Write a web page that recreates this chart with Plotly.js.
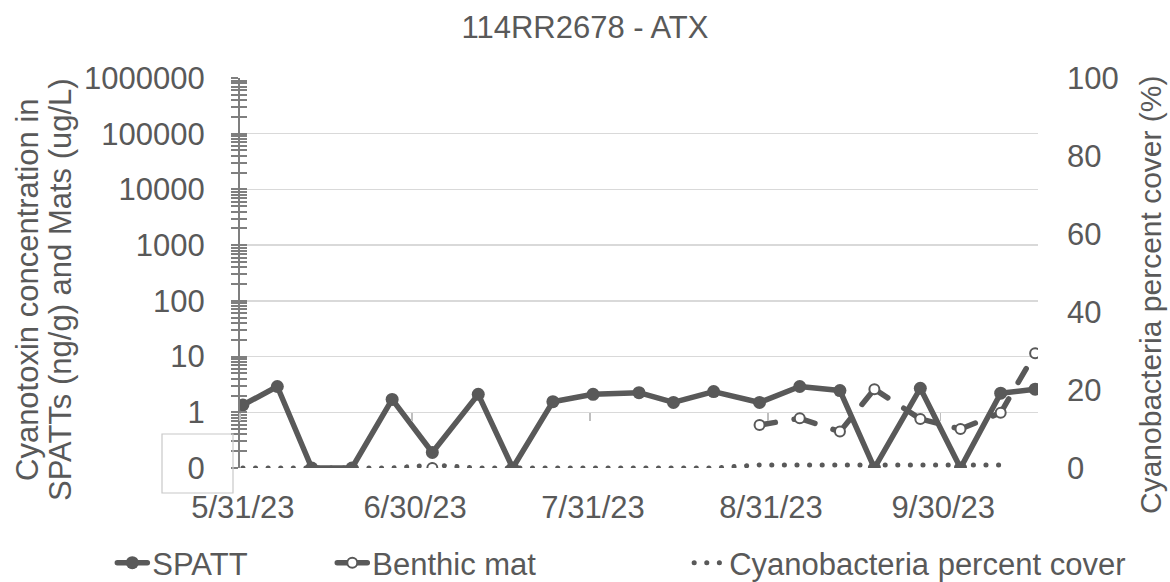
<!DOCTYPE html>
<html>
<head>
<meta charset="utf-8">
<script src="https://cdn.plot.ly/plotly-3.0.1.min.js"></script>
<style>
html, body { margin: 0; padding: 0; background: #ffffff; }
#chart { width: 1170px; height: 582px; }
path.js-line { stroke-linecap: round; stroke-linejoin: round; }
</style>
</head>
<body>
<div id="chart"></div>
<script>
// ---------- data ----------
const sampleDates = ['2023-05-31','2023-06-06','2023-06-12','2023-06-19','2023-06-26','2023-07-03','2023-07-11',
  '2023-07-17','2023-07-24','2023-07-31','2023-08-08','2023-08-14','2023-08-21','2023-08-29','2023-09-05',
  '2023-09-12','2023-09-18','2023-09-26','2023-10-03','2023-10-10','2023-10-16'];
const spattValues   = [1.35, 2.9, 0, 0, 1.7, 0.19, 2.1, 0, 1.55, 2.1, 2.25, 1.5, 2.35, 1.5, 2.9, 2.45, 0, 2.7, 0, 2.2, 2.6];
const benthicValues = [null, null, null, null, null, 0, null, null, null, null, null, null, null, 0.59, 0.78, 0.45, 2.6, 0.76, 0.5, 0.98, 11.5];
const coverValues   = [0, 0, 0, 0, 0, 0.8, 0, 0, 0, 0, 0, 0, 0, 0.8, 0.8, 0.8, 0.8, 0.8, 0.8, 0.8, null];

const leftTickValues  = [0.1, 1, 10, 100, 1000, 10000, 100000, 1000000];
const leftTickLabels  = ['0', '1', '10', '100', '1000', '10000', '100000', '1000000'];
const rightTickValues = [0, 20, 40, 60, 80, 100];
const xTickDates  = ['2023-05-31', '2023-06-30', '2023-07-31', '2023-08-31', '2023-09-30'];
const xTickLabels = ['5/31/23', '6/30/23', '7/31/23', '8/31/23', '9/30/23'];

const titleText = '114RR2678 - ATX';
const leftTitleLines = ['Cyanotoxin concentration in', 'SPATTs (ng/g) and Mats (ug/L)'];
const rightTitleText = 'Cyanobacteria percent cover (%)';
const seriesNames = ['SPATT', 'Benthic mat', 'Cyanobacteria percent cover'];

// ---------- styling ----------
const INK = '#595959';
const GRID = '#d9d9d9';
const AXIS = '#7f7f7f';
const FONT = 'Liberation Sans, Arial, sans-serif';
const FS = 31;
const LFS = 31;
const LOG_FLOOR = 0.1;           // the log axis bottom, labelled "0"
const logRange = [-1, 6];
const xRange = ['2023-05-30 12:00', '2023-10-16 12:00'];

const toLog = v => (v === null ? null : (v === 0 ? LOG_FLOOR : v));

// minor ticks 2..9 in every decade
const minorTicks = [];
for (let d = logRange[0]; d < logRange[1]; d++) {
  for (let k = 2; k <= 9; k++) minorTicks.push(k * Math.pow(10, d));
}
// x tick marks sit at day-bin boundaries (half a day before each label)
const xTickBounds = xTickDates.map(s => {
  const p = s.split('-').map(Number);
  return Date.UTC(p[0], p[1] - 1, p[2]) - 12 * 3600 * 1000;
});

const traces = [];

// Cyanobacteria percent cover (right axis, main y)
traces.push({
  x: sampleDates, y: coverValues, name: seriesNames[2], type: 'scatter', mode: 'lines',
  xaxis: 'x', yaxis: 'y', legend: 'legend3', connectgaps: false,
  line: { color: INK, width: 5, dash: '0.1px,12.5px' }, hoverinfo: 'skip'
});

// SPATT
traces.push({
  x: sampleDates, y: spattValues.map(toLog), name: seriesNames[0], type: 'scatter', mode: 'lines+markers',
  xaxis: 'x', yaxis: 'y2', legend: 'legend',
  line: { color: INK, width: 5.5 }, marker: { color: INK, size: 13, symbol: 'circle' }, hoverinfo: 'skip'
});

// Benthic mat: dashed segments (dash pattern restarts per segment)
for (let i = 0; i < sampleDates.length - 1; i++) {
  if (benthicValues[i] !== null && benthicValues[i + 1] !== null) {
    traces.push({
      x: [sampleDates[i], sampleDates[i + 1]],
      y: [toLog(benthicValues[i]), toLog(benthicValues[i + 1])],
      type: 'scatter', mode: 'lines', xaxis: 'x', yaxis: 'y2', showlegend: false,
      line: { color: INK, width: 5.5, dash: '16px,19px' }, hoverinfo: 'skip'
    });
  }
}
// Benthic mat markers
traces.push({
  x: sampleDates, y: benthicValues.map(toLog), name: seriesNames[1], type: 'scatter', mode: 'markers',
  xaxis: 'x', yaxis: 'y2', showlegend: false,
  marker: { color: '#ffffff', size: 10, symbol: 'circle', line: { color: INK, width: 2 } }, hoverinfo: 'skip'
});
// Benthic mat legend entry
traces.push({
  x: [null], y: [null], name: seriesNames[1], type: 'scatter', mode: 'lines+markers',
  xaxis: 'x', yaxis: 'y2', legend: 'legend2',
  line: { color: INK, width: 5.5 },
  marker: { color: '#ffffff', size: 10, symbol: 'circle', line: { color: INK, width: 2 } }, hoverinfo: 'skip'
});

// helper traces so the extra tick axes are drawn
traces.push({ x: [null], y: [null], xaxis: 'x', yaxis: 'y3', showlegend: false, type: 'scatter', mode: 'lines', hoverinfo: 'skip' });
traces.push({ x: [null], y: [null], xaxis: 'x2', yaxis: 'y', showlegend: false, type: 'scatter', mode: 'lines', hoverinfo: 'skip' });

const plotLeft = 240, plotRight = 1038, plotTop = 78, plotBottom = 468;
const W = 1170, H = 582;
const pw = plotRight - plotLeft, ph = plotBottom - plotTop;
const pxToPaperX = px => (px - plotLeft) / pw;
const pyToPaperY = py => (plotBottom - py) / ph;

const legendCommon = {
  orientation: 'h', xref: 'container', yref: 'container', xanchor: 'left', yanchor: 'middle',
  bgcolor: 'rgba(0,0,0,0)', borderwidth: 0, font: { family: FONT, size: LFS, color: INK }
};

const layout = {
  width: W, height: H,
  paper_bgcolor: '#ffffff', plot_bgcolor: '#ffffff',
  margin: { l: plotLeft, r: W - plotRight, t: plotTop, b: H - plotBottom, pad: 0 },
  font: { family: FONT, size: FS, color: INK },
  title: { text: titleText, font: { family: FONT, size: FS, color: INK },
           x: 0.5, xref: 'container', y: 1 - 27 / H, yref: 'container', yanchor: 'middle' },
  showlegend: true,
  legend:  Object.assign({}, legendCommon, { x: 0.096, y: 1 - 563 / H }),
  legend2: Object.assign({}, legendCommon, { x: 0.284, y: 1 - 563 / H }),
  legend3: Object.assign({}, legendCommon, { x: 0.589, y: 1 - 563 / H }),
  xaxis: {
    type: 'date', range: xRange, tickmode: 'array', tickvals: xTickDates, ticktext: xTickLabels,
    ticks: '', showgrid: false, showline: false, zeroline: false,
    tickfont: { family: FONT, size: FS, color: INK }, ticklabelstandoff: 18, anchor: 'y'
  },
  xaxis2: {
    type: 'date', range: xRange, overlaying: 'x', anchor: 'free',
    position: (Math.log10(1) - logRange[0]) / (logRange[1] - logRange[0]),
    tickmode: 'array', tickvals: xTickBounds, ticks: 'outside', ticklen: 8, tickwidth: 1.5, tickcolor: '#bfbfbf',
    showticklabels: false, showgrid: false, showline: false, zeroline: false, side: 'bottom'
  },
  yaxis: {
    range: [0, 100], side: 'right', tickmode: 'array', tickvals: rightTickValues,
    ticks: '', showgrid: false, showline: false, zeroline: false,
    tickfont: { family: FONT, size: FS, color: INK }, ticklabelstandoff: 28, anchor: 'x'
  },
  yaxis2: {
    type: 'log', range: logRange, overlaying: 'y', side: 'left', anchor: 'x',
    tickmode: 'array', tickvals: leftTickValues, ticktext: leftTickLabels,
    showgrid: true, gridcolor: GRID, gridwidth: 1.5, zeroline: false,
    showline: true, linecolor: AXIS, linewidth: 2,
    ticks: 'outside', ticklen: 7, tickwidth: 2, tickcolor: AXIS,
    minor: { tickmode: 'array', tickvals: minorTicks, ticks: 'outside', ticklen: 7, tickwidth: 2, tickcolor: AXIS, showgrid: false },
    tickfont: { family: FONT, size: FS, color: INK }, ticklabelstandoff: 20
  },
  yaxis3: {
    type: 'log', range: logRange, overlaying: 'y', side: 'left', anchor: 'x',
    tickmode: 'array', tickvals: leftTickValues, showticklabels: false,
    showgrid: false, zeroline: false, showline: false,
    ticks: 'inside', ticklen: 7, tickwidth: 2, tickcolor: AXIS,
    minor: { tickmode: 'array', tickvals: minorTicks, ticks: 'inside', ticklen: 7, tickwidth: 2, tickcolor: AXIS, showgrid: false }
  },
  annotations: [
    { text: leftTitleLines[0], xref: 'paper', yref: 'paper', x: pxToPaperX(27), y: pyToPaperY(290),
      textangle: -90, showarrow: false, xanchor: 'center', yanchor: 'middle', font: { family: FONT, size: FS, color: INK } },
    { text: leftTitleLines[1], xref: 'paper', yref: 'paper', x: pxToPaperX(60), y: pyToPaperY(290),
      textangle: -90, showarrow: false, xanchor: 'center', yanchor: 'middle', font: { family: FONT, size: FS, color: INK } },
    { text: rightTitleText, xref: 'paper', yref: 'paper', x: pxToPaperX(1150), y: pyToPaperY(295),
      textangle: -90, showarrow: false, xanchor: 'center', yanchor: 'middle', font: { family: FONT, size: 30, color: INK } }
  ],
  shapes: [
    { type: 'rect', xref: 'paper', yref: 'paper', x0: pxToPaperX(162), x1: pxToPaperX(233),
      y0: pyToPaperY(493), y1: pyToPaperY(434), line: { color: '#c8c8c8', width: 1.2 }, fillcolor: 'rgba(0,0,0,0)' }
  ]
};

Plotly.newPlot('chart', traces, layout, { displayModeBar: false, staticPlot: true });
</script>
</body>
</html>
